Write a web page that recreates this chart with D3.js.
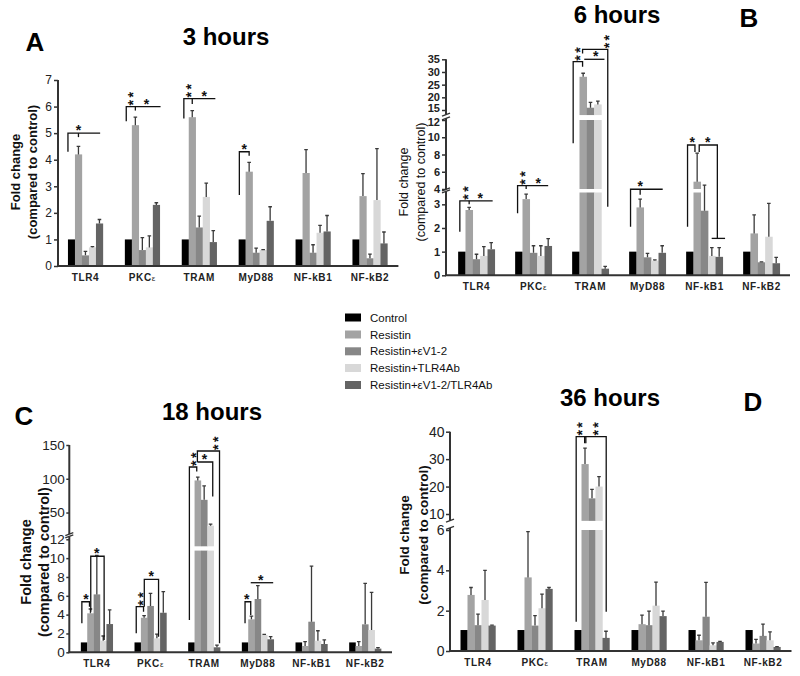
<!DOCTYPE html>
<html><head><meta charset="utf-8">
<script src="https://cdn.jsdelivr.net/npm/d3@7"></script>
<style>body{margin:0;background:#fff}svg{font-family:"Liberation Sans",Arial,sans-serif}</style>
</head><body><svg id="chart" width="800" height="676"></svg>
<script>
const genes = ["TLR4","PKCε","TRAM","MyD88","NF-kB1","NF-kB2"];
const treatments = ["Control","Resistin","Resistin+εV1-2","Resistin+TLR4Ab","Resistin+εV1-2/TLR4Ab"];
const treatmentColors = ["#000000","#a3a3a3","#878787","#d8d8d8","#646464"];

// Panel A — 3 hours
const A_control = [1,1,1,1,1,1];
const A_resistin = [4.2,5.3,5.6,3.55,3.5,2.63];
const A_resistin_err = [4.5,5.6,5.85,3.9,4.38,3.48];
const A_ev12 = [0.4,0.6,1.45,0.5,0.5,0.29];
const A_ev12_err = [0.55,1.07,1.88,0.67,0.8,0.45];
const A_tlr4ab = [0.7,0.7,2.6,0.6,1.25,2.48];
const A_tlr4ab_err = [0.73,1.13,3.12,0.62,1.53,4.42];
const A_combo = [1.6,2.3,0.9,1.7,1.3,0.85];
const A_combo_err = [1.75,2.38,1.33,2.23,1.9,1.28];

// Panel B — 6 hours
const B_control = [1,1,1,1,1,1];
const B_resistin = [2.76,3.22,28.1,2.87,4.85,1.77];
const B_resistin_err = [2.87,3.43,29.5,3.22,8.15,2.55];
const B_ev12 = [0.68,0.95,15.9,0.76,2.73,0.55];
const B_ev12_err = [0.89,1.25,18,0.93,4.45,0.57];
const B_tlr4ab = [0.82,0.82,17.2,0.62,0.82,1.63];
const B_tlr4ab_err = [1.21,1.25,18.5,0.65,1.17,3.04];
const B_combo = [1.1,1.24,0.28,0.95,0.78,0.51];
const B_combo_err = [1.38,1.55,0.38,1.25,1.17,0.76];

// Panel C — 18 hours
const C_control = [1.05,1.05,1.05,1.05,1.05,1.05];
const C_resistin = [4.14,3.67,97.5,3.5,0.67,0.67];
const C_resistin_err = [4.6,3.89,102.5,3.85,1.13,1.13];
const C_ev12 = [6.15,4.92,68.8,5.66,3.25,2.97];
const C_ev12_err = [10.3,6.26,89.6,7.07,9.16,7.32];
const C_tlr4ab = [1.23,1.48,30.6,1.84,1.23,2.37];
const C_tlr4ab_err = [1.73,1.94,32.7,1.9,2.29,6.37];
const C_combo = [3.0,4.2,0.53,1.38,0.88,0.39];
const C_combo_err = [4.5,6.44,0.77,1.66,1.31,0.5];

// Panel D — 36 hours
const D_control = [1.04,1.04,1.04,1.04,1.04,1.04];
const D_resistin = [2.78,3.65,28.2,1.33,0.53,0.37];
const D_resistin_err = [3.15,5.92,34,1.78,0.78,0.58];
const D_ev12 = [1.28,1.26,15.7,1.28,1.7,0.75];
const D_ev12_err = [1.83,1.75,19,1.98,3.4,1.33];
const D_tlr4ab = [2.53,2.12,20,2.25,0.28,0.53];
const D_tlr4ab_err = [4.0,2.82,23.6,3.42,0.4,0.95];
const D_combo = [1.26,3.08,0.65,1.73,0.45,0.2];
const D_combo_err = [1.28,3.15,0.98,1.98,0.48,0.22];

// Significance brackets: group index, polylines of [series position, value], stars [series position, value, count]
const A_brackets = [
  {g:0, lines:[[[-0.5,4.3],[-0.5,5.0],[4.1,5.0]],[[1,5.0],[1,4.85]]], stars:[[1,5.0,1]]},
  {g:1, lines:[[[-0.3,5.45],[-0.3,6.0],[4.6,6.0]],[[1,6.0],[1,5.85]]], stars:[[0.3,6.0,2],[2.6,6.0,1]]},
  {g:2, lines:[[[-0.2,5.55],[-0.2,6.3],[4.3,6.3]],[[1,6.3],[1,6.1]]], stars:[[0.4,6.3,2],[2.7,6.3,1]]},
  {g:3, lines:[[[-0.4,2.67],[-0.4,4.3],[1,4.3],[1,4.15]]], stars:[[0.3,4.3,1]]}
];
const B_brackets = [
  {g:0, lines:[[[-0.27,1.84],[-0.27,3.15],[4.2,3.15]],[[1,3.15],[1,3.0]]], stars:[[0.4,3.15,2],[2.5,3.15,1]]},
  {g:1, lines:[[[-0.17,2.62],[-0.17,4.38],[4.0,4.38]],[[1,4.38],[1,4.0]]], stars:[[0.45,4.38,2],[2.65,4.38,1]]},
  {g:2, lines:[[[-0.36,9.3],[-0.36,34.05],[0.92,34.05],[0.92,32.1]],[[0.92,37.3],[0.92,38.9],[4.35,38.9],[4.35,2.9]],[[1.15,35.0],[3.9,35.0]]], stars:[[0.1,34.05,2],[2.7,35.0,1],[4.1,38.9,2]]},
  {g:3, lines:[[[-0.31,2.05],[-0.31,3.97],[4.07,3.97]],[[1,3.97],[1,3.4]]], stars:[[1,3.97,1]]},
  {g:4, lines:[[[-0.31,2.05],[-0.31,9.1],[0.7,9.1],[0.7,8.3]],[[1.28,8.3],[1.28,9.1],[3.75,9.1],[3.75,1.56]],[[2.98,1.56],[4.8,1.56]]], stars:[[0.32,9.1,1],[2.43,9.1,1]]}
];
const C_brackets = [
  {g:0, lines:[[[-0.34,3.08],[-0.34,5.37],[0.85,5.37],[0.85,4.84]],[[1.05,4.3],[1.05,10.2],[3.14,10.2],[3.14,1.3]]], stars:[[0.3,5.37,1],[2.0,10.2,1]]},
  {g:1, lines:[[[-0.23,2.02],[-0.23,4.84],[0.91,4.84],[0.91,4.31]],[[1.03,4.84],[1.03,7.75],[3.26,7.75],[3.26,1.66]]], stars:[[0.36,4.84,2],[2.1,7.75,1]]},
  {g:2, lines:[[[-0.31,3.43],[-0.31,117.4],[0.84,117.4],[0.84,110.8]],[[0.94,124.8],[3.34,124.8],[3.34,73.7]],[[0.94,124.8],[0.94,141.1],[4.4,141.1],[4.4,0.96]]], stars:[[0.22,117.4,2],[2.03,124.8,1],[3.75,141.1,2]]},
  {g:3, lines:[[[0,3.08],[0,5.37],[0.89,5.37],[0.89,3.96]],[[0.89,7.39],[4.4,7.39]]], stars:[[0.27,5.37,1],[2.45,7.39,1]]}
];
const D_brackets = [
  {g:2, lines:[[[-0.26,1.45],[-0.26,38.2],[4.03,38.2],[4.03,1.95]],[[0.95,38.2],[0.95,35.8]],[[1.12,38.2],[1.12,35.8]]], stars:[[0.21,38.2,2],[2.36,38.2,2]]}
];

const svg = d3.select("#chart");
const AXIS_COLOR = "#333";

function drawPanel(cfg) {
  const g = svg.append("g");
  const x0 = d3.scaleBand().domain(genes).range(cfg.xRange).paddingInner(cfg.pad).paddingOuter(cfg.pad/2);
  const x1 = d3.scaleBand().domain(d3.range(treatments.length)).range([0, x0.bandwidth()]);
  const segs = cfg.segs.map(s => Object.assign({}, s, {scale: d3.scaleLinear().domain(s.dom).range(s.rng)}));
  const Y = v => { let s = segs[0]; segs.forEach(sg => { if (v >= sg.min) s = sg; }); return s.scale(v); };
  const xs = (gi, s) => x0(genes[gi]) + (s + 0.5) * x1.bandwidth();

  // bar pieces (broken axes split bars into segments)
  const pieces = [];
  cfg.values.forEach((vals, si) => vals.forEach((v, gi) => segs.forEach((sg, k) => {
    if (k > 0 && v < sg.min) return;
    const lo = sg.barStart, hi = Math.min(v, sg.barEnd);
    if (hi <= lo) return;
    pieces.push({si, gi, y0: sg.scale(lo), y1: sg.scale(hi)});
  })));
  g.append("g").selectAll("rect").data(pieces).join("rect")
    .attr("x", d => x0(genes[d.gi]) + x1(d.si))
    .attr("width", x1.bandwidth() + 0.2)
    .attr("y", d => d.y1).attr("height", d => d.y0 - d.y1)
    .attr("fill", d => treatmentColors[d.si]);

  // error bars
  const errs = [];
  cfg.errors.forEach((arr, k) => { if (!arr) return; arr.forEach((e, gi) => errs.push({si: k, gi, v: cfg.values[k][gi], e})); });
  const eg = g.append("g").attr("stroke", "#3a3a3a").attr("stroke-width", 1.3).attr("fill", "none");
  eg.selectAll("path").data(errs).join("path")
    .attr("d", d => { const cx = xs(d.gi, d.si); const ye = Y(d.e);
      return `M${cx},${Y(d.v)}V${ye}M${cx-1.8},${ye}H${cx+1.8}`; });

  // y axes (segmented)
  const shift = cfg.tickShift || {};
  segs.forEach((sg, k) => {
    const ax = d3.axisLeft(sg.scale).tickValues(sg.ticks).tickFormat(d3.format("d"))
      .tickSize(cfg.tickSize).tickPadding(cfg.tickPad).tickSizeOuter(0);
    const ga = g.append("g").attr("transform", `translate(${cfg.axisX},0)`).call(ax);
    ga.select(".domain").remove();
    ga.selectAll(".tick line").attr("stroke", AXIS_COLOR).attr("stroke-width", 1.5);
    ga.selectAll(".tick text").attr("fill", "#222").style("font-size", cfg.tickFont + "px")
      .style("font-family", "'Liberation Sans',Arial,sans-serif").style("font-weight", cfg.tickWeight || "normal")
      .attr("y", d => shift[d] || 0);
    g.append("line").attr("x1", cfg.axisX).attr("x2", cfg.axisX)
      .attr("y1", sg.scale(sg.line[0])).attr("y2", sg.scale(sg.line[1]))
      .attr("stroke", AXIS_COLOR).attr("stroke-width", 2);
    if (k > 0) {
      const prev = segs[k-1];
      [prev.scale(prev.line[1]), sg.scale(sg.line[0])].forEach(yy => {
        g.append("line").attr("x1", cfg.axisX - 4).attr("x2", cfg.axisX + 4)
          .attr("y1", yy + 1.5).attr("y2", yy - 1.5).attr("stroke", AXIS_COLOR).attr("stroke-width", 1.3);
      });
    }
  });
  // x axis
  const yBase = segs[0].scale(0);
  g.append("line").attr("x1", cfg.axisX - 1).attr("x2", cfg.xRange[1]).attr("y1", yBase).attr("y2", yBase)
    .attr("stroke", AXIS_COLOR).attr("stroke-width", 2);
  const lab = g.append("g").selectAll("text").data(genes).join("text")
    .attr("x", d => x0(d) + x0.bandwidth()/2).attr("y", yBase + 15)
    .attr("text-anchor", "middle").style("font-size", "10px").style("font-weight", "bold")
    .style("letter-spacing", "0.6px").attr("fill", "#222");
  lab.each(function(d) {
    const t = d3.select(this);
    if (d === "PKCε") { t.append("tspan").text("PKC"); t.append("tspan").text("ε").style("font-size", "8px").style("font-weight", "normal"); }
    else t.text(d);
  });

  // brackets
  const bg = g.append("g").attr("stroke", "#111").attr("stroke-width", 1.3).attr("fill", "none");
  const line = d3.line();
  cfg.brackets.forEach(b => {
    b.lines.forEach(pl => bg.append("path").attr("d", line(pl.map(p => [xs(b.g, p[0]), Y(p[1])]))));
    b.stars.forEach(st => {
      const cx = xs(b.g, st[0]);
      const yl = Y(st[1]);
      if (st[2] === 1) {
        g.append("text").attr("x", cx).attr("y", yl + 2).attr("text-anchor", "middle")
          .style("font-size", "14px").style("font-weight", "bold").attr("fill", "#111").text("*");
      } else {
        // stacked stars, drawn as a rotated "**" string as the original software does
        g.append("text").attr("transform", `translate(${cx + 8},${yl - 9}) rotate(-90)`)
          .attr("text-anchor", "middle").style("font-size", "14px").style("font-weight", "bold")
          .style("letter-spacing", "2.5px").attr("fill", "#111").text("**");
      }
    });
  });

  // y label
  const ylg = g.append("g").attr("transform", `translate(${cfg.ylab.x},${cfg.ylab.y}) rotate(-90)`);
  ylg.append("text").attr("text-anchor", "middle").attr("y", 0).text("Fold change")
    .style("font-size", cfg.ylab.size + "px").style("font-weight", cfg.ylab.weight).attr("fill", "#111");
  ylg.append("text").attr("text-anchor", "middle").attr("y", cfg.ylab.gap).text("(compared to control)")
    .style("font-size", cfg.ylab.size + "px").style("font-weight", cfg.ylab.weight).attr("fill", "#111");

  // title and panel letter
  svg.append("text").attr("x", cfg.title.x).attr("y", cfg.title.y).attr("text-anchor", "middle")
    .style("font-size", "24px").style("font-weight", "bold").text(cfg.title.text);
  svg.append("text").attr("x", cfg.letter.x).attr("y", cfg.letter.y).attr("text-anchor", "middle")
    .style("font-size", "26px").style("font-weight", "bold").text(cfg.letter.text);
}

drawPanel({
  xRange: [57, 398.4], pad: 0.385, axisX: 58, tickFont: 12, tickSize: 4, tickPad: 2,
  segs: [{min: 0, dom: [0, 7], rng: [266, 80], barStart: 0, barEnd: 7, ticks: d3.range(0, 8), line: [0, 7]}],
  values: [A_control, A_resistin, A_ev12, A_tlr4ab, A_combo],
  errors: [null, A_resistin_err, A_ev12_err, A_tlr4ab_err, A_combo_err],
  brackets: A_brackets,
  ylab: {x: 20, y: 172, gap: 17, size: 13, weight: "bold"},
  title: {x: 226, y: 45, text: "3 hours"}, letter: {x: 35, y: 51, text: "A"}
});

drawPanel({
  xRange: [448, 790], pad: 0.356, axisX: 446, tickFont: 11, tickWeight: "bold", tickSize: 4, tickPad: 2,
  tickShift: {12: 2, 15: -2},
  segs: [
    {min: 0, dom: [0, 3.5], rng: [275.3, 192.5], barStart: 0, barEnd: 3.5, ticks: [0,1,2,3], line: [0, 3.55]},
    {min: 3.5, dom: [4, 12], rng: [189, 120], barStart: 4, barEnd: 12, ticks: [4,6,8,10,12], line: [3.95, 12.2]},
    {min: 12.5, dom: [15, 35], rng: [110, 59.3], barStart: 13, barEnd: 35, ticks: [15,20,25,30,35], line: [13.2, 35]}
  ],
  values: [B_control, B_resistin, B_ev12, B_tlr4ab, B_combo],
  errors: [null, B_resistin_err, B_ev12_err, B_tlr4ab_err, B_combo_err],
  brackets: B_brackets,
  ylab: {x: 408, y: 182, gap: 17, size: 12.5, weight: "normal"},
  title: {x: 617, y: 23, text: "6 hours"}, letter: {x: 749, y: 27, text: "B"}
});

drawPanel({
  xRange: [70, 392], pad: 0.404, axisX: 69.3, tickFont: 13.5, tickSize: 3, tickPad: 1.5,
  segs: [
    {min: 0, dom: [0, 12], rng: [652.3, 539.3], barStart: 0, barEnd: 10.8, ticks: [0,2,4,6,8,10,12], line: [0, 12.3]},
    {min: 12.5, dom: [0, 150], rng: [546.3, 445], barStart: 0, barEnd: 150, ticks: [50,100,150], line: [18, 150]}
  ],
  values: [C_control, C_resistin, C_ev12, C_tlr4ab, C_combo],
  errors: [null, C_resistin_err, C_ev12_err, C_tlr4ab_err, C_combo_err],
  brackets: C_brackets,
  ylab: {x: 31, y: 562, gap: 18, size: 14.5, weight: "bold"},
  title: {x: 212, y: 420, text: "18 hours"}, letter: {x: 24, y: 425, text: "C"}
});

drawPanel({
  xRange: [449.5, 791.5], pad: 0.386, axisX: 450, tickFont: 14, tickSize: 4, tickPad: 1.5,
  segs: [
    {min: 0, dom: [0, 6], rng: [651, 530], barStart: 0, barEnd: 6, ticks: [0,2,4,6], line: [0, 6.1]},
    {min: 6.5, dom: [10, 40], rng: [514, 431.7], barStart: 7.5, barEnd: 40, ticks: [10,20,30,40], line: [7.6, 40]}
  ],
  values: [D_control, D_resistin, D_ev12, D_tlr4ab, D_combo],
  errors: [null, D_resistin_err, D_ev12_err, D_tlr4ab_err, D_combo_err],
  brackets: D_brackets,
  ylab: {x: 409, y: 535, gap: 19, size: 13.5, weight: "bold"},
  title: {x: 610, y: 406, text: "36 hours"}, letter: {x: 753, y: 411, text: "D"}
});

// legend
const legendY = [317.5, 334.5, 351.3, 368, 385];
const lg = svg.append("g").selectAll("g").data(treatments).join("g")
  .attr("transform", (d, i) => `translate(345,${legendY[i]})`);
lg.append("rect").attr("x", 0).attr("y", -4).attr("width", 16).attr("height", 8)
  .attr("fill", (d, i) => treatmentColors[i]);
lg.append("text").attr("x", 25).attr("y", 4).style("font-size", "11.5px").attr("fill", "#111").text(d => d);
</script></body></html>
